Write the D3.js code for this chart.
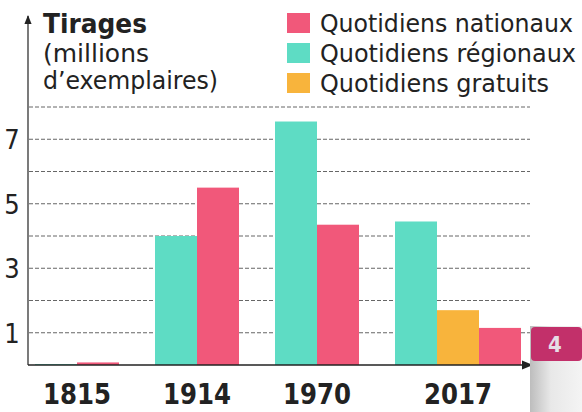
<!DOCTYPE html>
<html>
<head>
<meta charset="utf-8">
<title> Tirages </title>
<script src="https://d3js.org/d3.v7.min.js"></script>
<style>
body { margin: 0; background: #fff; }
text { font-family: "DejaVu Sans Condensed", "Liberation Sans Narrow", sans-serif; }
</style>
</head>
<body>
<script>
// values (millions of copies)
var years = ["1815", "1914", "1970", "2017"];
var regionaux = [0.03, 4.0, 7.55, 4.45];
var gratuits = [null, null, null, 1.7];
var nationaux = [0.08, 5.5, 4.35, 1.15];
var seriesNames = ["Quotidiens nationaux", "Quotidiens régionaux", "Quotidiens gratuits"];
var seriesColors = ["#f1587a", "#5edcc4", "#f8b43c"];
var yTicks = [1, 3, 5, 7];
var gridValues = [1, 2, 3, 4, 5, 6, 7, 8];

var width = 582, height = 412;
var svg = d3.select("body").append("svg")
	.attr("width", width)
	.attr("height", height);

var x0 = d3.scaleBand().domain(years).range([35, 515]);
var x1 = d3.scaleBand().domain([0, 1, 2]).range([0, 126]);
var y = d3.scaleLinear().domain([0, 8]).range([365, 107]);

// gridlines
svg.append("g").selectAll("line")
	.data(gridValues)
	.enter().append("line")
	.attr("x1", 29).attr("x2", 530)
	.attr("y1", function(d) { return y(d); })
	.attr("y2", function(d) { return y(d); })
	.attr("stroke", "#666")
	.attr("stroke-width", 1)
	.attr("stroke-dasharray", "4,2");

// bars: within each year the present series sit side by side
var bars = [];
years.forEach(function(yr, i) {
	var list = [];
	list.push({ v: regionaux[i], c: seriesColors[1] });
	if (gratuits[i] != null) list.push({ v: gratuits[i], c: seriesColors[2] });
	list.push({ v: nationaux[i], c: seriesColors[0] });
	list.forEach(function(b, j) {
		bars.push({ year: yr, slot: j, v: b.v, c: b.c });
	});
});

svg.append("g").selectAll("rect")
	.data(bars)
	.enter().append("rect")
	.attr("x", function(d) { return x0(d.year) + x1(d.slot); })
	.attr("width", x1.bandwidth())
	.attr("y", function(d) { return y(d.v); })
	.attr("height", function(d) { return y(0) - y(d.v); })
	.attr("fill", function(d) { return d.c; });

// axes with arrows
var defs = svg.append("defs");
defs.append("marker")
	.attr("id", "arrow")
	.attr("viewBox", "0 0 10 10")
	.attr("refX", 9).attr("refY", 5)
	.attr("markerWidth", 7).attr("markerHeight", 7)
	.attr("orient", "auto")
	.append("path")
	.attr("d", "M0,1 L10,5 L0,9 Z")
	.attr("fill", "#222");

svg.append("line")
	.attr("x1", 28).attr("x2", 28)
	.attr("y1", y(0)).attr("y2", 16)
	.attr("stroke", "#333").attr("stroke-width", 1.3)
	.attr("marker-end", "url(#arrow)");

svg.append("line")
	.attr("x1", 28).attr("x2", 532)
	.attr("y1", y(0)).attr("y2", y(0))
	.attr("stroke", "#222").attr("stroke-width", 1.6)
	.attr("marker-end", "url(#arrow)");

// y tick labels
svg.append("g").selectAll("text")
	.data(yTicks)
	.enter().append("text")
	.attr("x", 12)
	.attr("y", function(d) { return y(d) + 10; })
	.attr("text-anchor", "middle")
	.attr("font-size", 27)
	.attr("fill", "#222")
	.text(function(d) { return d; });

// year labels
svg.append("g").selectAll("text")
	.data(years)
	.enter().append("text")
	.attr("x", function(d, i) {
		var n = (gratuits[i] != null) ? 3 : 2;
		return x0(d) + n * x1.bandwidth() / 2;
	})
	.attr("y", 404)
	.attr("text-anchor", "middle")
	.attr("font-size", 29)
	.attr("font-weight", "bold")
	.attr("fill", "#222")
	.attr("textLength", 68)
	.attr("lengthAdjust", "spacingAndGlyphs")
	.text(function(d) { return d; });

// title
svg.append("text")
	.attr("x", 43).attr("y", 33)
	.attr("font-size", 26).attr("font-weight", "bold").attr("fill", "#222")
	.attr("textLength", 104).attr("lengthAdjust", "spacingAndGlyphs")
	.text("Tirages");
svg.append("text")
	.attr("x", 43).attr("y", 62)
	.attr("font-size", 25).attr("fill", "#222")
	.attr("textLength", 106).attr("lengthAdjust", "spacingAndGlyphs")
	.text("(millions");
svg.append("text")
	.attr("x", 43).attr("y", 89)
	.attr("font-size", 25).attr("fill", "#222")
	.attr("textLength", 175).attr("lengthAdjust", "spacingAndGlyphs")
	.text("d’exemplaires)");

// legend
var legendLengths = [253, 256, 229];
var legend = svg.append("g").selectAll("g")
	.data(seriesNames)
	.enter().append("g")
	.attr("transform", function(d, i) { return "translate(287," + (13 + i * 30) + ")"; });
legend.append("rect")
	.attr("width", 23).attr("height", 20)
	.attr("fill", function(d, i) { return seriesColors[i]; });
legend.append("text")
	.attr("x", 33).attr("y", 19)
	.attr("font-size", 25).attr("fill", "#222")
	.attr("textLength", function(d, i) { return legendLengths[i]; })
	.attr("lengthAdjust", "spacingAndGlyphs")
	.text(function(d) { return d; });

// page corner badge
var grad = defs.append("linearGradient").attr("id", "corner")
	.attr("x1", 0).attr("x2", 1).attr("y1", 0).attr("y2", 0);
grad.append("stop").attr("offset", 0).attr("stop-color", "#bdbdbd");
grad.append("stop").attr("offset", 0.4).attr("stop-color", "#e8e8e8");
grad.append("stop").attr("offset", 1).attr("stop-color", "#f4f4f4");
svg.append("rect")
	.attr("x", 530).attr("y", 326).attr("width", 52).attr("height", 86)
	.attr("fill", "url(#corner)");
svg.append("rect")
	.attr("x", 531).attr("y", 327).attr("width", 51).attr("height", 34)
	.attr("rx", 4)
	.attr("fill", "#c2306a");
svg.append("text")
	.attr("x", 555).attr("y", 352)
	.attr("text-anchor", "middle")
	.attr("font-size", 22).attr("font-weight", "bold")
	.attr("fill", "#e6dde6")
	.text("4");
</script>
</body>
</html>
